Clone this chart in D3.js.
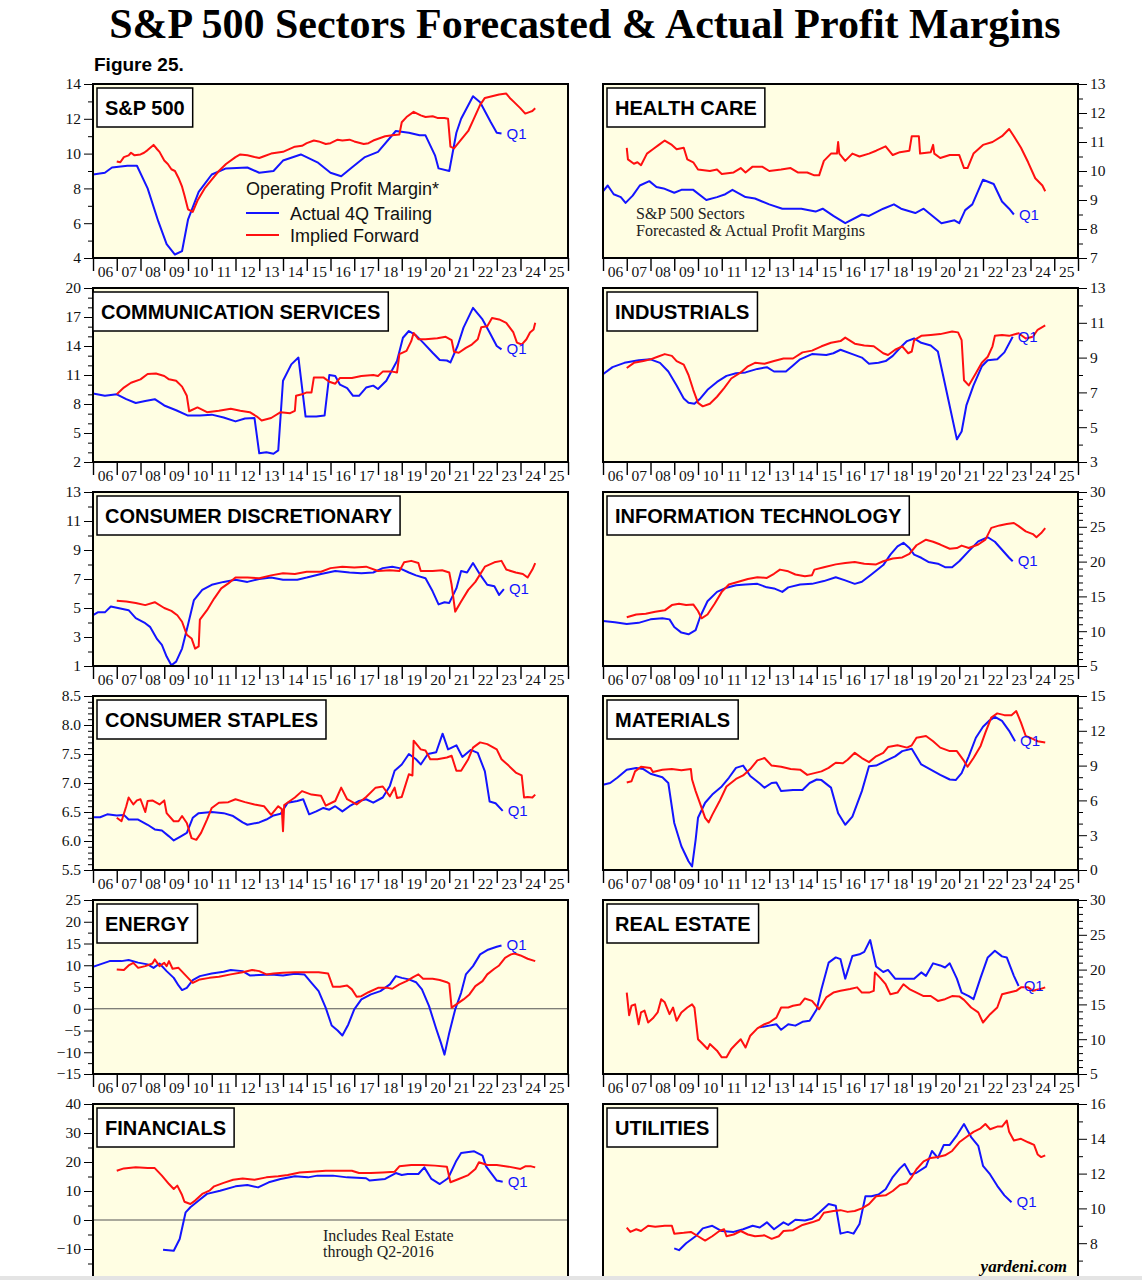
<!DOCTYPE html>
<html>
<head>
<meta charset="utf-8">
<script src="https://cdn.jsdelivr.net/npm/d3@7"></script>
<style>
body { margin: 0; background: #fff; }
</style>
</head>
<body>
<svg id="chart" width="1142" height="1280"></svg>
<script>
// panel order: left/right per row
const panelTitles = ["S&P 500", "HEALTH CARE", "COMMUNICATION SERVICES", "INDUSTRIALS",
  "CONSUMER DISCRETIONARY", "INFORMATION TECHNOLOGY", "CONSUMER STAPLES", "MATERIALS",
  "ENERGY", "REAL ESTATE", "FINANCIALS", "UTILITIES"];

const panelTicks = [
  [4, 6, 8, 10, 12, 14], [7, 8, 9, 10, 11, 12, 13],
  [2, 5, 8, 11, 14, 17, 20], [3, 5, 7, 9, 11, 13],
  [1, 3, 5, 7, 9, 11, 13], [5, 10, 15, 20, 25, 30],
  [5.5, 6.0, 6.5, 7.0, 7.5, 8.0, 8.5], [0, 3, 6, 9, 12, 15],
  [-15, -10, -5, 0, 5, 10, 15, 20, 25], [5, 10, 15, 20, 25, 30],
  [-20, -10, 0, 10, 20, 30, 40], [6, 8, 10, 12, 14, 16]
];
const minorSteps = [1, 0.5, 1, 1, 1, 1, 0.1, 1, 2.5, 1, 5, 1];

const yearLabels = ["06","07","08","09","10","11","12","13","14","15","16","17","18","19","20","21","22","23","24","25"];

// actual 4Q trailing (blue)
const spActual = [[2006.0,8.8],[2006.5,8.9],[2006.8,9.2],[2007.45,9.3],[2007.85,9.3],[2008.3,8.0],[2008.75,6.1],[2009.1,4.8],[2009.45,4.2],[2009.75,4.4],[2010.0,6.2],[2010.45,7.8],[2011.0,8.8],[2011.6,9.15],[2012.5,9.2],[2013.0,8.9],[2013.6,9.0],[2014.0,9.6],[2014.75,9.95],[2015.45,9.5],[2016.0,8.9],[2016.45,8.7],[2016.9,9.2],[2017.45,9.8],[2018.0,10.1],[2018.75,11.3],[2019.3,11.2],[2019.75,11.05],[2020.0,11.05],[2020.4,9.9],[2020.55,9.15],[2021.0,9.0],[2021.3,11.2],[2021.5,12.0],[2022.0,13.3],[2022.3,12.95],[2022.75,11.8],[2023.0,11.2],[2023.2,11.15]];
const hcActual = [[2006.0,9.3],[2006.2,9.5],[2006.45,9.2],[2006.75,9.1],[2006.95,8.9],[2007.25,9.15],[2007.55,9.5],[2007.95,9.65],[2008.25,9.45],[2008.55,9.4],[2009.0,9.25],[2009.3,9.35],[2009.8,9.35],[2010.35,9.0],[2010.8,9.1],[2011.15,9.2],[2011.45,9.35],[2012.0,9.1],[2012.4,9.05],[2012.7,8.95],[2013.0,8.85],[2013.55,8.7],[2014.35,8.7],[2014.95,8.6],[2015.25,8.7],[2015.7,8.45],[2016.2,8.2],[2016.9,8.5],[2017.2,8.45],[2017.8,8.7],[2018.25,8.85],[2018.55,8.7],[2019.15,8.55],[2019.5,8.7],[2020.25,8.2],[2020.8,8.3],[2021.0,8.2],[2021.25,8.65],[2021.55,8.85],[2022.0,9.7],[2022.45,9.55],[2022.8,8.95],[2023.1,8.7],[2023.3,8.5]];
const csvActual = [[2006.0,9.1],[2006.5,8.85],[2007.0,9.0],[2007.4,8.5],[2007.8,8.1],[2008.2,8.3],[2008.6,8.5],[2009.0,7.85],[2009.5,7.35],[2010.0,6.8],[2010.5,6.8],[2011.0,6.9],[2011.5,6.6],[2012.0,6.2],[2012.4,6.5],[2012.8,6.55],[2013.0,2.9],[2013.3,3.0],[2013.6,2.85],[2013.8,3.2],[2014.0,10.4],[2014.35,12.1],[2014.65,12.8],[2014.95,6.7],[2015.4,6.7],[2015.75,6.8],[2015.95,11.0],[2016.2,10.9],[2016.4,10.0],[2016.7,9.65],[2016.95,8.85],[2017.2,8.85],[2017.5,9.7],[2017.8,9.9],[2018.0,9.55],[2018.35,10.4],[2018.8,12.45],[2019.05,14.85],[2019.3,15.55],[2019.6,15.1],[2019.9,14.35],[2020.3,13.3],[2020.6,12.55],[2020.9,12.5],[2021.05,12.3],[2021.35,14.0],[2021.6,15.9],[2022.0,17.95],[2022.4,16.75],[2022.7,15.4],[2023.0,14.0],[2023.2,13.65]];
const indActual = [[2006.0,8.05],[2006.4,8.45],[2006.9,8.7],[2007.5,8.85],[2008.0,8.9],[2008.4,8.7],[2008.75,8.2],[2009.1,7.4],[2009.4,6.65],[2009.6,6.4],[2009.85,6.35],[2010.1,6.65],[2010.4,7.15],[2010.8,7.6],[2011.2,7.95],[2011.6,8.1],[2012.0,8.15],[2012.5,8.35],[2012.9,8.45],[2013.2,8.2],[2013.7,8.2],[2014.0,8.55],[2014.3,8.9],[2014.8,9.2],[2015.4,9.15],[2015.7,9.25],[2016.0,9.45],[2016.5,9.2],[2016.9,9.0],[2017.2,8.65],[2017.6,8.7],[2017.9,8.8],[2018.2,9.1],[2018.5,9.55],[2018.8,9.95],[2019.1,10.1],[2019.4,9.85],[2019.8,9.7],[2020.1,9.35],[2020.3,8.1],[2020.6,6.2],[2020.9,4.3],[2021.1,4.75],[2021.3,6.25],[2021.6,7.4],[2021.95,8.5],[2022.2,8.85],[2022.6,8.9],[2022.9,9.3],[2023.25,10.2]];
const cdActual = [[2006.0,4.5],[2006.2,4.7],[2006.5,4.7],[2006.75,5.1],[2007.2,4.95],[2007.5,4.85],[2007.8,4.3],[2008.2,3.95],[2008.4,3.7],[2008.7,2.85],[2008.9,2.45],[2009.1,1.65],[2009.3,1.05],[2009.5,1.3],[2009.75,2.2],[2010.0,3.85],[2010.25,5.55],[2010.6,6.25],[2011.0,6.6],[2011.5,6.8],[2012.0,6.95],[2012.5,6.8],[2013.0,7.0],[2013.5,7.1],[2014.0,6.95],[2014.6,6.95],[2015.0,7.1],[2015.6,7.35],[2016.2,7.55],[2016.8,7.45],[2017.3,7.4],[2017.8,7.45],[2018.2,7.75],[2018.6,7.85],[2018.9,7.75],[2019.3,7.45],[2019.6,7.25],[2020.0,7.05],[2020.3,6.15],[2020.55,5.25],[2020.8,5.4],[2021.0,5.35],[2021.3,6.35],[2021.5,7.55],[2021.75,7.45],[2022.0,8.1],[2022.3,7.3],[2022.6,6.6],[2022.9,6.5],[2023.1,5.9],[2023.3,6.3]];
const itActual = [[2006.0,11.45],[2006.5,11.3],[2007.0,11.05],[2007.5,11.2],[2008.0,11.7],[2008.5,11.85],[2008.8,11.7],[2009.0,10.6],[2009.3,9.8],[2009.6,9.55],[2009.9,10.15],[2010.1,12.15],[2010.4,14.3],[2010.8,15.65],[2011.2,16.25],[2011.6,16.6],[2012.0,16.7],[2012.5,16.8],[2012.9,16.3],[2013.2,16.15],[2013.55,15.65],[2013.8,16.3],[2014.3,16.7],[2014.8,16.8],[2015.3,17.2],[2015.8,17.75],[2016.2,17.3],[2016.6,16.8],[2016.9,17.1],[2017.3,18.15],[2017.8,19.5],[2018.1,21.0],[2018.4,22.2],[2018.65,22.7],[2018.9,21.95],[2019.1,21.0],[2019.4,20.55],[2019.7,19.95],[2020.1,19.7],[2020.4,19.2],[2020.7,19.2],[2021.0,20.05],[2021.4,21.5],[2021.8,22.9],[2022.2,23.5],[2022.5,22.85],[2022.8,21.7],[2023.1,20.55],[2023.25,20.05]];
const stActual = [[2006.0,6.41],[2006.3,6.41],[2006.6,6.46],[2007.0,6.44],[2007.3,6.45],[2007.5,6.37],[2007.9,6.37],[2008.3,6.28],[2008.6,6.2],[2008.9,6.18],[2009.2,6.08],[2009.4,6.01],[2009.7,6.08],[2009.95,6.14],[2010.2,6.4],[2010.45,6.48],[2011.0,6.5],[2011.5,6.48],[2011.9,6.43],[2012.3,6.32],[2012.5,6.28],[2013.0,6.32],[2013.3,6.37],[2013.6,6.44],[2013.9,6.47],[2014.2,6.66],[2014.6,6.69],[2014.85,6.72],[2015.1,6.46],[2015.4,6.51],[2015.7,6.57],[2015.95,6.54],[2016.2,6.6],[2016.5,6.51],[2016.8,6.6],[2017.2,6.69],[2017.5,6.72],[2017.8,6.66],[2018.2,6.75],[2018.5,6.95],[2018.7,7.21],[2019.0,7.32],[2019.3,7.5],[2019.6,7.41],[2019.8,7.32],[2020.1,7.5],[2020.45,7.53],[2020.72,7.85],[2020.95,7.58],[2021.3,7.65],[2021.55,7.45],[2021.9,7.57],[2022.2,7.52],[2022.5,7.2],[2022.7,6.68],[2022.95,6.65],[2023.25,6.52]];
const matActual = [[2006.0,7.35],[2006.3,7.5],[2006.6,7.95],[2007.0,8.65],[2007.4,8.8],[2007.7,8.7],[2008.0,8.3],[2008.5,8.0],[2008.75,7.5],[2009.0,4.05],[2009.3,2.05],[2009.6,0.75],[2009.75,0.3],[2009.9,2.6],[2010.0,4.5],[2010.3,5.8],[2010.6,6.5],[2011.0,7.2],[2011.3,7.95],[2011.6,8.8],[2011.9,9.0],[2012.2,8.1],[2012.6,7.45],[2012.8,7.1],[2013.1,7.5],[2013.3,7.55],[2013.5,6.8],[2014.0,6.9],[2014.4,6.9],[2014.7,7.5],[2015.0,7.8],[2015.2,7.75],[2015.6,7.1],[2015.9,4.9],[2016.2,3.9],[2016.5,4.6],[2016.9,6.8],[2017.2,8.95],[2017.5,9.0],[2017.9,9.4],[2018.3,9.8],[2018.6,10.25],[2019.0,10.45],[2019.4,9.1],[2019.8,8.65],[2020.2,8.2],[2020.6,7.8],[2020.85,7.75],[2021.1,8.35],[2021.4,9.8],[2021.7,11.4],[2022.0,12.35],[2022.25,12.85],[2022.5,13.2],[2022.8,12.85],[2023.1,12.0],[2023.35,11.1]];
const enActual = [[2006.0,9.65],[2006.3,10.2],[2006.7,10.95],[2007.2,10.95],[2007.5,11.2],[2007.9,10.6],[2008.3,10.2],[2008.55,9.4],[2008.8,10.4],[2009.1,8.65],[2009.4,7.1],[2009.6,5.35],[2009.75,4.3],[2009.95,4.8],[2010.2,6.6],[2010.5,7.5],[2011.0,8.1],[2011.5,8.5],[2011.8,8.9],[2012.3,8.65],[2012.6,7.65],[2013.0,7.75],[2013.5,7.9],[2014.0,7.65],[2014.5,8.05],[2014.9,7.9],[2015.2,5.95],[2015.5,4.05],[2015.8,0.2],[2016.05,-3.85],[2016.3,-5.0],[2016.5,-6.15],[2016.75,-3.6],[2017.0,-0.15],[2017.3,2.15],[2017.7,3.3],[2018.1,4.05],[2018.5,5.6],[2018.75,7.5],[2019.0,7.1],[2019.3,6.75],[2019.6,6.1],[2019.85,4.45],[2020.15,0.6],[2020.45,-4.6],[2020.65,-7.85],[2020.8,-10.55],[2021.0,-5.55],[2021.25,-0.15],[2021.5,3.65],[2021.7,7.9],[2022.0,9.8],[2022.3,12.5],[2022.6,13.5],[2023.0,14.25],[2023.2,14.55]];
const reActual = [[2012.6,11.7],[2013.0,11.95],[2013.3,12.15],[2013.5,11.35],[2013.8,12.15],[2014.1,11.95],[2014.4,12.5],[2014.7,12.65],[2015.0,14.3],[2015.2,17.2],[2015.5,21.0],[2015.8,21.75],[2016.0,21.5],[2016.2,18.7],[2016.5,21.95],[2016.8,22.2],[2017.0,22.55],[2017.25,24.25],[2017.5,20.45],[2017.8,19.65],[2018.0,19.95],[2018.3,18.7],[2018.8,18.7],[2019.1,18.7],[2019.4,19.6],[2019.6,19.1],[2019.9,20.9],[2020.2,20.6],[2020.4,20.3],[2020.6,20.9],[2020.9,18.7],[2021.1,16.7],[2021.4,16.2],[2021.6,15.75],[2021.9,18.85],[2022.2,21.75],[2022.5,22.7],[2022.8,21.9],[2023.0,21.75],[2023.3,19.1],[2023.5,17.65]];
const finActual = [[2008.95,-10.3],[2009.4,-10.6],[2009.65,-6.55],[2009.9,2.65],[2010.1,4.4],[2010.45,6.7],[2010.8,9.0],[2011.35,10.1],[2012.0,11.6],[2012.5,12.05],[2012.95,11.25],[2013.4,13.0],[2013.9,14.15],[2014.5,15.05],[2015.05,14.7],[2015.45,15.3],[2016.1,15.3],[2016.7,14.7],[2017.5,14.4],[2017.65,13.6],[2018.3,14.15],[2018.75,16.2],[2019.0,15.5],[2019.25,15.85],[2019.7,15.85],[2019.95,18.15],[2020.25,14.15],[2020.6,12.4],[2020.95,14.4],[2021.3,20.45],[2021.5,23.1],[2022.05,23.7],[2022.4,22.2],[2022.55,18.5],[2023.0,13.6],[2023.25,13.2]];
const utActual = [[2009.0,7.7],[2009.2,7.6],[2009.5,8.0],[2009.9,8.4],[2010.2,8.85],[2010.6,9.0],[2011.0,8.7],[2011.5,8.65],[2011.9,8.8],[2012.3,9.0],[2012.6,8.9],[2012.9,9.2],[2013.2,8.8],[2013.6,9.2],[2013.8,9.05],[2014.1,9.35],[2014.5,9.3],[2014.8,9.4],[2015.1,9.75],[2015.5,10.25],[2015.8,10.15],[2016.0,8.55],[2016.3,8.65],[2016.55,8.55],[2016.8,9.1],[2017.05,10.7],[2017.3,10.7],[2017.6,10.8],[2017.9,11.1],[2018.2,11.8],[2018.5,12.3],[2018.7,12.55],[2018.95,11.95],[2019.2,12.05],[2019.6,12.4],[2019.85,13.3],[2020.1,12.9],[2020.35,13.65],[2020.6,13.65],[2020.9,14.2],[2021.2,14.85],[2021.5,14.1],[2021.8,13.6],[2022.0,12.45],[2022.3,11.95],[2022.6,11.3],[2022.9,10.75],[2023.2,10.35]];

// implied forward (red)
const spForward = [[2007.0,9.55],[2007.15,9.5],[2007.3,9.8],[2007.5,9.9],[2007.6,10.05],[2007.75,9.9],[2008.0,9.95],[2008.15,10.05],[2008.3,10.2],[2008.55,10.5],[2008.7,10.25],[2008.8,10.1],[2009.0,9.6],[2009.15,9.4],[2009.3,9.1],[2009.45,9.0],[2009.6,8.6],[2009.75,8.1],[2009.85,7.6],[2010.0,6.8],[2010.2,6.65],[2010.4,7.3],[2010.7,8.0],[2011.0,8.5],[2011.3,9.0],[2011.6,9.4],[2012.0,9.8],[2012.2,9.95],[2012.5,9.9],[2012.8,9.8],[2013.0,9.75],[2013.2,9.85],[2013.5,10.0],[2014.0,10.1],[2014.5,10.4],[2014.8,10.45],[2015.0,10.6],[2015.3,10.75],[2015.5,10.7],[2015.8,10.55],[2016.0,10.6],[2016.3,10.8],[2016.5,10.75],[2016.8,10.8],[2017.0,10.7],[2017.4,10.55],[2017.6,10.6],[2017.8,10.75],[2018.3,11.0],[2018.6,11.05],[2018.9,11.1],[2019.0,11.8],[2019.2,12.1],[2019.5,12.4],[2019.8,12.2],[2020.0,12.1],[2020.3,12.15],[2020.5,12.05],[2020.8,12.05],[2020.95,12.0],[2021.05,10.4],[2021.2,10.3],[2021.5,10.8],[2021.8,11.3],[2022.0,11.9],[2022.3,12.8],[2022.5,13.2],[2022.8,13.3],[2023.1,13.4],[2023.4,13.45],[2023.55,13.2],[2023.7,13.0],[2024.0,12.6],[2024.2,12.3],[2024.4,12.4],[2024.5,12.45],[2024.62,12.6]];
const hcForward = [[2007.0,10.8],[2007.05,10.4],[2007.3,10.25],[2007.45,10.3],[2007.6,10.2],[2007.85,10.6],[2008.1,10.75],[2008.35,10.9],[2008.6,11.05],[2008.9,10.9],[2009.1,10.75],[2009.4,10.8],[2009.55,10.4],[2009.8,10.3],[2010.0,10.05],[2010.5,10.0],[2010.8,10.05],[2011.0,9.9],[2011.5,9.95],[2011.8,10.1],[2012.0,9.95],[2012.3,10.15],[2012.7,10.15],[2013.0,10.0],[2013.5,10.05],[2013.9,10.1],[2014.2,9.95],[2014.6,9.95],[2014.9,9.85],[2015.1,9.85],[2015.3,10.35],[2015.6,10.6],[2015.85,10.6],[2015.9,11.0],[2015.95,10.6],[2016.2,10.35],[2016.5,10.6],[2016.8,10.5],[2017.2,10.6],[2017.5,10.7],[2017.9,10.85],[2018.2,10.55],[2018.5,10.65],[2018.9,10.7],[2019.0,11.2],[2019.3,11.2],[2019.35,10.6],[2019.8,10.65],[2019.9,10.9],[2019.95,10.6],[2020.2,10.45],[2020.6,10.55],[2021.0,10.55],[2021.2,10.1],[2021.35,10.1],[2021.6,10.6],[2022.0,10.9],[2022.4,11.0],[2022.8,11.2],[2023.1,11.45],[2023.3,11.2],[2023.6,10.8],[2023.9,10.3],[2024.2,9.75],[2024.5,9.5],[2024.62,9.3]];
const csvForward = [[2007.0,9.0],[2007.3,9.7],[2007.6,10.2],[2008.0,10.55],[2008.3,11.1],[2008.65,11.15],[2009.0,10.9],[2009.2,10.55],[2009.5,10.4],[2009.75,9.8],[2009.95,8.85],[2010.05,7.25],[2010.4,7.65],[2010.8,7.15],[2011.3,7.3],[2011.8,7.5],[2012.2,7.3],[2012.6,7.15],[2012.9,6.7],[2013.1,6.3],[2013.5,6.55],[2013.9,7.15],[2014.3,7.05],[2014.5,7.3],[2014.55,8.85],[2014.8,9.0],[2015.0,9.2],[2015.2,9.2],[2015.3,10.75],[2015.7,10.75],[2015.95,10.3],[2016.2,10.1],[2016.4,10.7],[2016.9,10.7],[2017.3,10.9],[2017.8,11.0],[2018.0,10.9],[2018.2,11.35],[2018.6,11.35],[2018.8,11.25],[2018.9,13.15],[2019.2,13.5],[2019.4,14.5],[2019.5,15.35],[2019.7,14.7],[2020.0,14.7],[2020.5,14.8],[2020.85,14.95],[2021.1,14.6],[2021.2,13.4],[2021.4,13.3],[2021.7,13.8],[2021.95,14.15],[2022.2,14.7],[2022.35,15.95],[2022.6,16.05],[2022.8,16.9],[2023.1,16.75],[2023.4,16.4],[2023.55,15.9],[2023.7,15.4],[2023.85,14.35],[2024.05,14.15],[2024.25,14.7],[2024.4,15.4],[2024.55,15.7],[2024.62,16.4]];
const indForward = [[2007.0,8.4],[2007.3,8.7],[2007.7,8.8],[2008.0,8.9],[2008.3,9.05],[2008.6,9.2],[2008.9,9.1],[2009.1,8.8],[2009.4,8.6],[2009.6,8.0],[2009.8,7.15],[2010.0,6.4],[2010.2,6.2],[2010.5,6.35],[2010.8,6.75],[2011.1,7.25],[2011.4,7.8],[2011.8,8.15],[2012.1,8.5],[2012.4,8.7],[2012.8,8.65],[2013.2,8.8],[2013.6,8.95],[2014.0,8.95],[2014.4,9.3],[2014.8,9.4],[2015.2,9.65],[2015.6,9.85],[2016.0,9.95],[2016.2,10.15],[2016.6,9.8],[2017.0,9.7],[2017.4,9.65],[2017.8,9.25],[2018.0,9.15],[2018.3,9.45],[2018.6,9.65],[2018.85,9.25],[2019.0,9.35],[2019.1,10.0],[2019.4,10.25],[2019.8,10.3],[2020.2,10.35],[2020.7,10.5],[2020.95,10.45],[2021.1,10.0],[2021.2,7.7],[2021.4,7.4],[2021.7,8.1],[2021.95,8.7],[2022.2,9.05],[2022.4,9.65],[2022.5,10.25],[2022.8,10.3],[2023.1,10.25],[2023.5,10.4],[2023.8,10.1],[2024.1,10.2],[2024.3,10.6],[2024.62,10.85]];
const cdForward = [[2007.0,5.5],[2007.4,5.45],[2007.8,5.35],[2008.2,5.2],[2008.6,5.4],[2009.0,5.0],[2009.3,4.8],[2009.55,4.5],[2009.75,4.05],[2009.95,3.15],[2010.15,2.9],[2010.3,2.2],[2010.45,2.35],[2010.5,4.2],[2010.8,4.85],[2011.1,5.65],[2011.4,6.35],[2011.7,6.7],[2012.0,7.1],[2012.5,7.1],[2013.0,7.05],[2013.5,7.25],[2014.0,7.4],[2014.5,7.35],[2015.0,7.5],[2015.6,7.5],[2016.0,7.75],[2016.5,7.85],[2017.0,7.8],[2017.5,7.85],[2018.0,7.55],[2018.5,7.6],[2018.9,7.55],[2019.1,8.15],[2019.4,8.25],[2019.7,8.1],[2019.8,7.55],[2020.3,7.55],[2020.7,7.6],[2021.0,7.45],[2021.1,6.6],[2021.25,4.75],[2021.5,5.45],[2021.8,6.25],[2022.1,6.8],[2022.5,7.85],[2022.9,8.15],[2023.2,8.25],[2023.4,7.65],[2023.8,7.45],[2024.1,7.35],[2024.3,7.1],[2024.5,7.65],[2024.62,8.1]];
const itForward = [[2007.0,12.0],[2007.4,12.4],[2007.8,12.5],[2008.2,12.8],[2008.6,13.0],[2008.9,13.75],[2009.2,13.95],[2009.5,13.75],[2009.8,13.85],[2010.0,12.9],[2010.15,11.85],[2010.4,12.4],[2010.7,13.95],[2011.0,15.65],[2011.3,16.7],[2011.7,17.1],[2012.1,17.5],[2012.5,17.75],[2012.9,17.65],[2013.2,18.25],[2013.45,18.85],[2013.8,18.6],[2014.1,18.15],[2014.5,17.9],[2014.8,18.05],[2014.9,18.85],[2015.3,19.2],[2015.8,19.6],[2016.2,19.8],[2016.6,19.95],[2017.0,19.7],[2017.5,19.6],[2017.8,20.05],[2018.2,20.45],[2018.6,20.6],[2018.9,21.1],[2019.2,22.35],[2019.6,23.15],[2019.9,22.85],[2020.2,22.45],[2020.6,21.85],[2020.9,21.95],[2021.1,22.3],[2021.4,21.95],[2021.8,22.45],[2022.1,23.15],[2022.35,24.85],[2022.7,25.2],[2023.0,25.4],[2023.3,25.55],[2023.5,25.1],[2023.8,24.35],[2024.1,23.95],[2024.25,23.5],[2024.45,24.1],[2024.62,24.8]];
const stForward = [[2007.0,6.4],[2007.2,6.34],[2007.4,6.6],[2007.5,6.75],[2007.7,6.63],[2007.85,6.7],[2008.0,6.72],[2008.2,6.5],[2008.3,6.69],[2008.5,6.7],[2008.8,6.63],[2009.0,6.7],[2009.1,6.48],[2009.4,6.34],[2009.6,6.34],[2009.75,6.43],[2009.95,6.31],[2010.15,6.05],[2010.35,6.02],[2010.55,6.14],[2010.8,6.37],[2011.0,6.57],[2011.3,6.66],[2011.7,6.67],[2012.0,6.72],[2012.4,6.67],[2012.8,6.63],[2013.2,6.6],[2013.5,6.45],[2013.8,6.6],[2013.95,6.55],[2014.0,6.17],[2014.05,6.62],[2014.5,6.75],[2014.8,6.86],[2015.2,6.8],[2015.6,6.78],[2015.8,6.61],[2016.2,6.69],[2016.45,6.92],[2016.7,6.72],[2017.1,6.63],[2017.5,6.76],[2017.9,6.92],[2018.2,6.94],[2018.5,6.77],[2018.7,6.92],[2018.8,6.74],[2019.0,6.76],[2019.1,6.89],[2019.3,7.15],[2019.45,7.13],[2019.5,7.73],[2019.8,7.58],[2020.0,7.56],[2020.2,7.41],[2020.5,7.41],[2020.9,7.44],[2021.1,7.47],[2021.3,7.21],[2021.5,7.21],[2021.8,7.41],[2022.0,7.61],[2022.3,7.7],[2022.6,7.67],[2023.0,7.58],[2023.2,7.41],[2023.5,7.3],[2023.8,7.18],[2024.05,7.13],[2024.15,6.75],[2024.3,6.76],[2024.5,6.75],[2024.62,6.8]];
const matForward = [[2007.0,7.55],[2007.2,7.65],[2007.35,8.5],[2007.6,8.9],[2008.0,8.8],[2008.1,8.45],[2008.5,8.65],[2008.9,8.7],[2009.3,8.6],[2009.7,8.7],[2009.75,7.8],[2009.9,6.8],[2010.1,5.65],[2010.3,4.5],[2010.45,4.1],[2010.6,4.75],[2010.9,5.9],[2011.2,7.2],[2011.6,7.85],[2011.9,8.15],[2012.2,8.7],[2012.5,9.45],[2012.8,9.65],[2013.1,9.0],[2013.5,8.9],[2013.9,8.7],[2014.3,8.65],[2014.6,8.2],[2014.9,8.35],[2015.2,8.5],[2015.5,8.8],[2015.8,9.25],[2016.1,9.2],[2016.3,9.5],[2016.6,10.1],[2016.9,9.65],[2017.2,9.3],[2017.5,9.8],[2017.8,10.1],[2018.0,10.6],[2018.4,10.75],[2018.8,10.55],[2019.0,10.75],[2019.2,11.4],[2019.6,11.55],[2019.9,11.1],[2020.2,10.55],[2020.6,10.25],[2020.9,10.25],[2021.2,9.4],[2021.35,8.9],[2021.6,9.65],[2021.9,10.7],[2022.1,11.85],[2022.35,13.15],[2022.6,13.5],[2022.9,13.35],[2023.2,13.35],[2023.4,13.7],[2023.6,12.7],[2023.8,11.55],[2024.1,11.3],[2024.3,11.1],[2024.62,11.0]];
const enForward = [[2007.0,9.05],[2007.3,8.9],[2007.5,9.95],[2007.7,10.55],[2007.9,9.4],[2008.2,9.8],[2008.5,10.4],[2008.6,11.35],[2008.8,9.8],[2009.0,10.55],[2009.1,9.8],[2009.2,10.95],[2009.35,9.2],[2009.6,9.4],[2009.8,8.25],[2010.0,7.1],[2010.2,5.95],[2010.5,6.75],[2010.9,7.1],[2011.3,7.35],[2011.8,7.9],[2012.3,8.4],[2012.7,8.9],[2013.0,8.65],[2013.3,7.9],[2013.6,8.1],[2014.0,8.25],[2014.5,8.4],[2015.0,8.4],[2015.5,8.4],[2015.9,8.1],[2016.1,5.05],[2016.4,5.05],[2016.7,5.35],[2016.9,4.45],[2017.1,2.75],[2017.3,2.9],[2017.6,3.8],[2018.0,4.8],[2018.4,4.8],[2018.6,4.6],[2018.9,5.6],[2019.2,6.35],[2019.5,7.35],[2019.7,7.9],[2019.9,6.9],[2020.3,6.9],[2020.6,6.6],[2020.9,6.1],[2021.0,5.8],[2021.1,0.25],[2021.3,1.0],[2021.6,2.15],[2021.85,3.3],[2022.1,5.2],[2022.4,6.35],[2022.6,7.9],[2022.9,9.2],[2023.1,9.95],[2023.35,11.7],[2023.6,12.5],[2023.75,12.7],[2024.0,12.25],[2024.3,11.5],[2024.62,10.95]];
const reForward = [[2007.0,16.7],[2007.1,13.45],[2007.2,14.8],[2007.35,15.0],[2007.5,12.15],[2007.6,13.85],[2007.75,14.1],[2007.9,12.4],[2008.1,13.0],[2008.3,13.85],[2008.45,15.75],[2008.6,15.3],[2008.8,13.6],[2008.95,14.55],[2009.1,12.65],[2009.3,13.85],[2009.55,14.55],[2009.75,15.0],[2009.85,14.55],[2010.0,10.0],[2010.2,9.3],[2010.4,8.6],[2010.5,9.3],[2010.8,8.35],[2011.0,7.4],[2011.2,7.4],[2011.4,8.6],[2011.6,9.3],[2011.8,10.0],[2012.0,8.8],[2012.2,10.5],[2012.5,11.55],[2012.8,12.15],[2013.0,12.4],[2013.3,13.1],[2013.5,14.55],[2013.8,14.55],[2014.0,14.8],[2014.3,15.0],[2014.5,15.85],[2014.8,15.5],[2015.1,14.3],[2015.4,16.0],[2015.7,16.7],[2016.0,16.95],[2016.4,17.2],[2016.7,17.45],[2016.9,16.7],[2017.2,16.7],[2017.4,16.95],[2017.45,19.6],[2017.7,18.7],[2017.9,17.9],[2018.1,16.45],[2018.4,16.7],[2018.65,17.9],[2018.9,17.2],[2019.2,16.7],[2019.5,16.2],[2019.8,16.2],[2020.1,15.5],[2020.4,15.75],[2020.7,16.2],[2021.0,16.15],[2021.2,15.65],[2021.5,14.55],[2021.8,13.85],[2022.0,12.4],[2022.3,13.6],[2022.6,14.55],[2022.8,16.45],[2023.1,16.7],[2023.4,16.95],[2023.6,17.45],[2023.9,17.45],[2024.1,16.95],[2024.4,17.2],[2024.62,17.45]];
const finForward = [[2007.0,17.0],[2007.3,17.8],[2007.8,18.15],[2008.3,17.9],[2008.6,17.9],[2008.9,15.3],[2009.2,12.4],[2009.4,10.7],[2009.55,11.85],[2009.75,8.6],[2009.85,6.3],[2010.1,5.5],[2010.3,6.7],[2010.6,9.0],[2010.9,10.1],[2011.1,11.6],[2011.5,12.8],[2011.9,13.9],[2012.3,14.35],[2012.8,13.9],[2013.3,14.7],[2013.8,15.05],[2014.2,15.5],[2014.7,16.4],[2015.2,16.65],[2015.8,17.0],[2016.4,17.0],[2016.9,17.0],[2017.2,16.2],[2017.7,16.2],[2018.2,16.4],[2018.7,16.65],[2018.9,18.5],[2019.4,18.95],[2019.9,18.95],[2020.4,18.75],[2020.9,18.4],[2021.05,13.0],[2021.4,14.15],[2021.8,15.5],[2022.1,17.6],[2022.25,19.9],[2022.6,18.95],[2023.0,18.95],[2023.5,18.4],[2024.0,17.6],[2024.2,18.5],[2024.45,18.5],[2024.62,18.15]];
const utForward = [[2007.0,8.9],[2007.15,8.65],[2007.4,8.8],[2007.6,8.7],[2007.9,9.0],[2008.2,8.95],[2008.6,9.0],[2008.9,9.0],[2009.0,8.55],[2009.4,8.6],[2009.7,8.65],[2010.0,8.4],[2010.3,8.15],[2010.6,8.4],[2010.9,8.7],[2011.1,8.8],[2011.2,8.4],[2011.5,8.5],[2011.8,8.7],[2012.1,8.5],[2012.4,8.4],[2012.8,8.45],[2013.1,8.25],[2013.4,8.4],[2013.6,8.7],[2014.0,8.75],[2014.4,9.05],[2014.8,9.2],[2015.1,9.35],[2015.3,9.75],[2015.7,9.85],[2016.0,9.9],[2016.3,9.8],[2016.6,9.85],[2016.9,10.0],[2017.2,10.25],[2017.5,10.7],[2017.9,10.75],[2018.2,11.0],[2018.5,11.35],[2018.8,11.45],[2019.0,11.8],[2019.2,12.25],[2019.5,12.7],[2019.8,12.9],[2020.1,12.95],[2020.4,13.05],[2020.7,13.3],[2021.0,13.8],[2021.3,14.1],[2021.6,14.4],[2021.9,14.6],[2022.1,14.85],[2022.3,14.55],[2022.6,14.7],[2022.8,14.7],[2023.0,15.05],[2023.1,14.4],[2023.3,13.9],[2023.6,14.0],[2023.9,13.8],[2024.15,13.65],[2024.3,13.1],[2024.45,12.95],[2024.62,13.05]];

const actualSeries = [spActual, hcActual, csvActual, indActual, cdActual, itActual, stActual, matActual, enActual, reActual, finActual, utActual];
const forwardSeries = [spForward, hcForward, csvForward, indForward, cdForward, itForward, stForward, matForward, enForward, reForward, finForward, utForward];

const svg = d3.select("#chart");
const W = 475, H = 174;
const PAGE_BOTTOM = 1276;
const serif = "'Liberation Serif', 'Times New Roman', serif";
const sans = "'Liberation Sans', Arial, sans-serif";

// title
svg.append("text")
  .attr("x", 585).attr("y", 38)
  .attr("text-anchor", "middle")
  .attr("font-family", serif).attr("font-weight", "bold")
  .attr("font-size", 42)
  .text("S&P 500 Sectors Forecasted & Actual Profit Margins");

svg.append("text")
  .attr("x", 94).attr("y", 71)
  .attr("font-family", sans).attr("font-weight", "bold")
  .attr("font-size", 19)
  .text("Figure 25.");

function drawPanel(i) {
  const col = i % 2, row = Math.floor(i / 2);
  const left = col === 0 ? 93 : 603;
  const top = 84 + row * 204;
  const ticks = panelTicks[i];
  const x = d3.scaleLinear().domain([2006, 2026]).range([left, left + W]);
  const y = d3.scaleLinear().domain([ticks[0], ticks[ticks.length - 1]]).range([top + H, top]);
  const g = svg.append("g");

  g.append("rect")
    .attr("x", left).attr("y", top).attr("width", W).attr("height", H)
    .attr("fill", "#fffee3");

  const clipId = "clip" + i;
  g.append("clipPath").attr("id", clipId)
    .append("rect").attr("x", left).attr("y", top).attr("width", W).attr("height", H);

  if (ticks[0] < 0) {
    g.append("line")
      .attr("x1", left).attr("x2", left + W)
      .attr("y1", y(0)).attr("y2", y(0))
      .attr("stroke", "#555").attr("stroke-width", 1);
  }

  const line = d3.line().x(d => x(d[0])).y(d => y(d[1]));
  const lines = g.append("g").attr("clip-path", `url(#${clipId})`);
  lines.append("path").datum(actualSeries[i])
    .attr("d", line).attr("fill", "none")
    .attr("stroke", "#1414ff").attr("stroke-width", 2).attr("stroke-linejoin", "round");
  lines.append("path").datum(forwardSeries[i])
    .attr("d", line).attr("fill", "none")
    .attr("stroke", "#ff1010").attr("stroke-width", 2).attr("stroke-linejoin", "round");

  g.append("rect")
    .attr("x", left).attr("y", top).attr("width", W).attr("height", H)
    .attr("fill", "none").attr("stroke", "#000").attr("stroke-width", 2);

  // y axis
  const step = minorSteps[i];
  const minor = d3.range(ticks[0], ticks[ticks.length - 1] + step / 2, step)
    .map(v => +v.toFixed(3))
    .filter(v => !ticks.some(t => Math.abs(t - v) < 1e-6));
  const fmt = i === 6 ? d3.format(".1f") : d3.format("d");
  const axisMaker = col === 0 ? d3.axisLeft : d3.axisRight;
  const axX = col === 0 ? left : left + W;

  // labels that would fall off the page are left out
  const shown = ticks.filter(t => y(t) + 6 < PAGE_BOTTOM);
  const yAxis = g.append("g")
    .attr("transform", `translate(${axX},0)`)
    .call(axisMaker(y).tickValues(shown).tickSize(9).tickPadding(3).tickFormat(fmt));
  yAxis.select(".domain").remove();
  yAxis.selectAll("text").attr("font-family", serif).attr("font-size", 15.5).attr("fill", "#111");

  const yMinor = g.append("g")
    .attr("transform", `translate(${axX},0)`)
    .call(axisMaker(y).tickValues(minor).tickSize(5).tickFormat(""));
  yMinor.select(".domain").remove();

  // x axis: year boundaries and labels (bottom row runs off the page)
  if (top + H + 20 < PAGE_BOTTOM) {
    const xAxis = g.append("g")
      .attr("transform", `translate(0,${top + H})`)
      .call(d3.axisBottom(x).tickValues(d3.range(2006, 2027)).tickSize(13).tickFormat(""));
    xAxis.select(".domain").remove();
    xAxis.selectAll("line").attr("stroke-width", 1.4);

    const xLab = g.append("g")
      .attr("transform", `translate(0,${top + H})`)
      .call(d3.axisBottom(x).tickValues(d3.range(2006.5, 2026, 1)).tickSize(0)
        .tickFormat(d => yearLabels[Math.floor(d) - 2006]));
    xLab.select(".domain").remove();
    xLab.selectAll("text")
      .attr("y", 8).attr("dy", "0.71em")
      .attr("font-family", serif).attr("font-size", 15.5).attr("fill", "#111");
  }

  // title box
  const tb = g.append("g");
  const boxX = left + (i === 2 ? 0 : 4), boxY = top + 4;
  const t = tb.append("text")
    .attr("x", boxX + 8).attr("y", boxY + 27)
    .attr("font-family", sans).attr("font-weight", "bold").attr("font-size", 20)
    .text(panelTitles[i]);
  const tw = t.node().getComputedTextLength();
  tb.insert("rect", "text")
    .attr("x", boxX).attr("y", boxY).attr("width", tw + 16).attr("height", 39)
    .attr("fill", "#fff").attr("stroke", "#000").attr("stroke-width", 1.5);

  // Q1 label
  const last = actualSeries[i][actualSeries[i].length - 1];
  g.append("text")
    .attr("x", x(last[0]) + 5).attr("y", y(last[1]) + 5)
    .attr("font-family", sans).attr("font-size", 15).attr("fill", "#1414ff")
    .text("Q1");
}

panelTitles.forEach((d, i) => drawPanel(i));

// legend in S&P 500 panel
const lg = svg.append("g").attr("font-family", sans).attr("font-size", 18).attr("fill", "#111");
lg.append("text").attr("x", 246).attr("y", 195).text("Operating Profit Margin*");
lg.append("line").attr("x1", 246).attr("x2", 279).attr("y1", 213).attr("y2", 213)
  .attr("stroke", "#1414ff").attr("stroke-width", 2);
lg.append("text").attr("x", 290).attr("y", 220).text("Actual 4Q Trailing");
lg.append("line").attr("x1", 246).attr("x2", 279).attr("y1", 235).attr("y2", 235)
  .attr("stroke", "#ff1010").attr("stroke-width", 2);
lg.append("text").attr("x", 290).attr("y", 242).text("Implied Forward");

// notes
const note = svg.append("g").attr("font-family", serif).attr("font-size", 16).attr("fill", "#222");
note.append("text").attr("x", 636).attr("y", 219).text("S&P 500 Sectors");
note.append("text").attr("x", 636).attr("y", 236).text("Forecasted & Actual Profit Margins");
note.append("text").attr("x", 323).attr("y", 1241).text("Includes Real Estate");
note.append("text").attr("x", 323).attr("y", 1257).text("through Q2-2016");

svg.append("text")
  .attr("x", 1067).attr("y", 1272).attr("text-anchor", "end")
  .attr("font-family", serif).attr("font-weight", "bold").attr("font-style", "italic")
  .attr("font-size", 17)
  .text("yardeni.com");

// page edge band at the bottom
svg.append("rect").attr("x", 0).attr("y", PAGE_BOTTOM).attr("width", 1142).attr("height", 4)
  .attr("fill", "#e4e4e4");
</script>
</body>
</html>
